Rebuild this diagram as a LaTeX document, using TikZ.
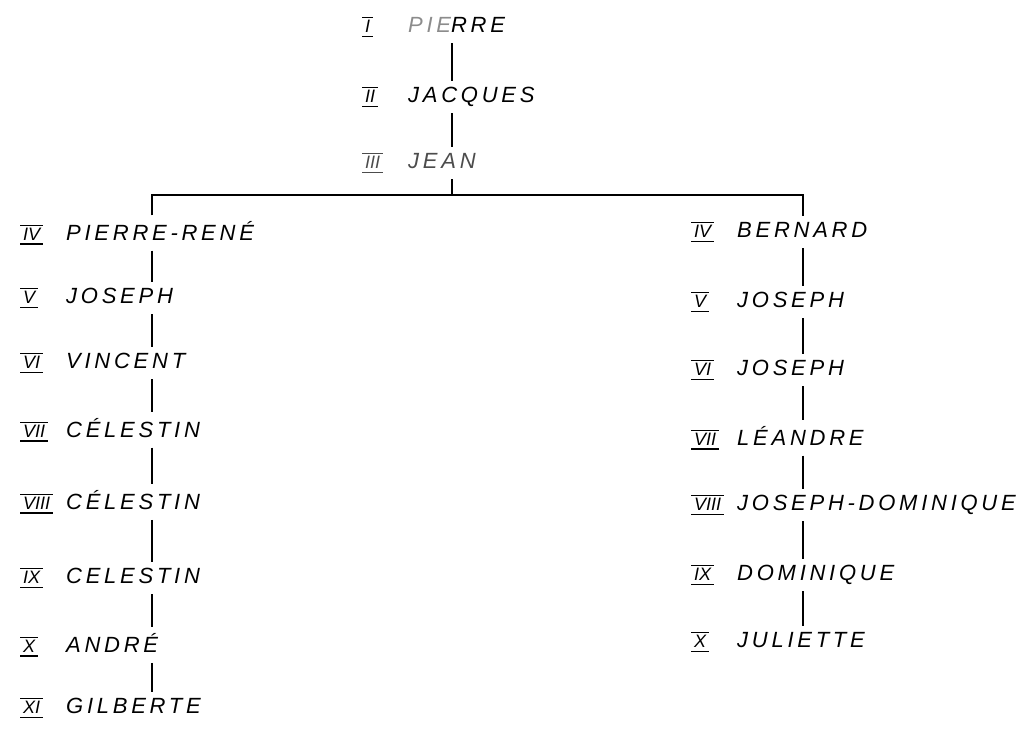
\documentclass[tikz,border=0pt]{standalone}
\usepackage{fontspec}
\setmainfont{Liberation Sans}
\newfontfamily\handfont[LetterSpace=17]{Liberation Sans}
\newcommand{\gennum}[1]{\makebox[46pt][l]{\lower4pt\vbox{\hrule height 1.2pt\kern2pt
  \hbox{\kern3pt\rmfamily\itshape\fontsize{18}{18}\selectfont #1\kern3pt}\kern3pt\hrule height 1.2pt}}}
\tikzset{
  person/.style={anchor=west,inner sep=6pt,
    font=\handfont\fontsize{22}{26}\selectfont\itshape},
  link/.style={line width=1.3pt},
}
\begin{document}
\begin{tikzpicture}[x=1pt,y=-1pt]
        \useasboundingbox (0,0) rectangle (1022,729);
        % first three generations
        \node (g1) [person] at (356,27) {\gennum{I}\textcolor{black!45}{PIE}RRE};
        \node (g2) [person] at (356,97) {\gennum{II}JACQUES};
        \node (g3) [person,text=black!70] at (356,163) {\gennum{III}JEAN};
        \coordinate (split) at (452,195);
        \coordinate (trunk left) at (152,195);
        \coordinate (trunk right) at (803,195);
        % left branch
        \node (l4) [person] at (14,233) {\gennum{IV}PIERRE-RENÉ};
        \node (l5) [person] at (14,298) {\gennum{V}JOSEPH};
        \node (l6) [person] at (14,363) {\gennum{VI}VINCENT};
        \node (l7) [person] at (14,430) {\gennum{VII}CÉLESTIN};
        \node (l8) [person] at (14,502) {\gennum{VIII}CÉLESTIN};
        \node (l9) [person] at (14,578) {\gennum{IX}CELESTIN};
        \node (l10) [person] at (14,645) {\gennum{X}ANDRÉ};
        \node (l11) [person] at (14,708) {\gennum{XI}GILBERTE};
        % right branch
        \node (r4) [person] at (685,232) {\gennum{IV}BERNARD};
        \node (r5) [person] at (685,302) {\gennum{V}JOSEPH};
        \node (r6) [person] at (685,370) {\gennum{VI}JOSEPH};
        \node (r7) [person] at (685,438) {\gennum{VII}LÉANDRE};
        \node (r8) [person] at (685,505) {\gennum{VIII}JOSEPH-DOMINIQUE};
        \node (r9) [person] at (685,575) {\gennum{IX}DOMINIQUE};
        \node (r10) [person] at (685,642) {\gennum{X}JULIETTE};
        % connectors
        \draw [link] (g1.south -| split) -- (g2.north -| split);
        \draw [link] (g2.south -| split) -- (g3.north -| split);
        \draw [link] (g3.south -| split) -- (split);
        \draw [link]
          (l4.north -| trunk left)
          |- (trunk right)
          -- (r4.north -| trunk right)
        ;
        \draw [link] (l4.south -| trunk left) -- (l5.north -| trunk left);
        \draw [link] (l5.south -| trunk left) -- (l6.north -| trunk left);
        \draw [link] (l6.south -| trunk left) -- (l7.north -| trunk left);
        \draw [link] (l7.south -| trunk left) -- (l8.north -| trunk left);
        \draw [link] (l8.south -| trunk left) -- (l9.north -| trunk left);
        \draw [link] (l9.south -| trunk left) -- (l10.north -| trunk left);
        \draw [link] (l10.south -| trunk left) -- (l11.north -| trunk left);
        \draw [link] (r4.south -| trunk right) -- (r5.north -| trunk right);
        \draw [link] (r5.south -| trunk right) -- (r6.north -| trunk right);
        \draw [link] (r6.south -| trunk right) -- (r7.north -| trunk right);
        \draw [link] (r7.south -| trunk right) -- (r8.north -| trunk right);
        \draw [link] (r8.south -| trunk right) -- (r9.north -| trunk right);
        \draw [link] (r9.south -| trunk right) -- (r10.north -| trunk right);
\end{tikzpicture}
\end{document}
